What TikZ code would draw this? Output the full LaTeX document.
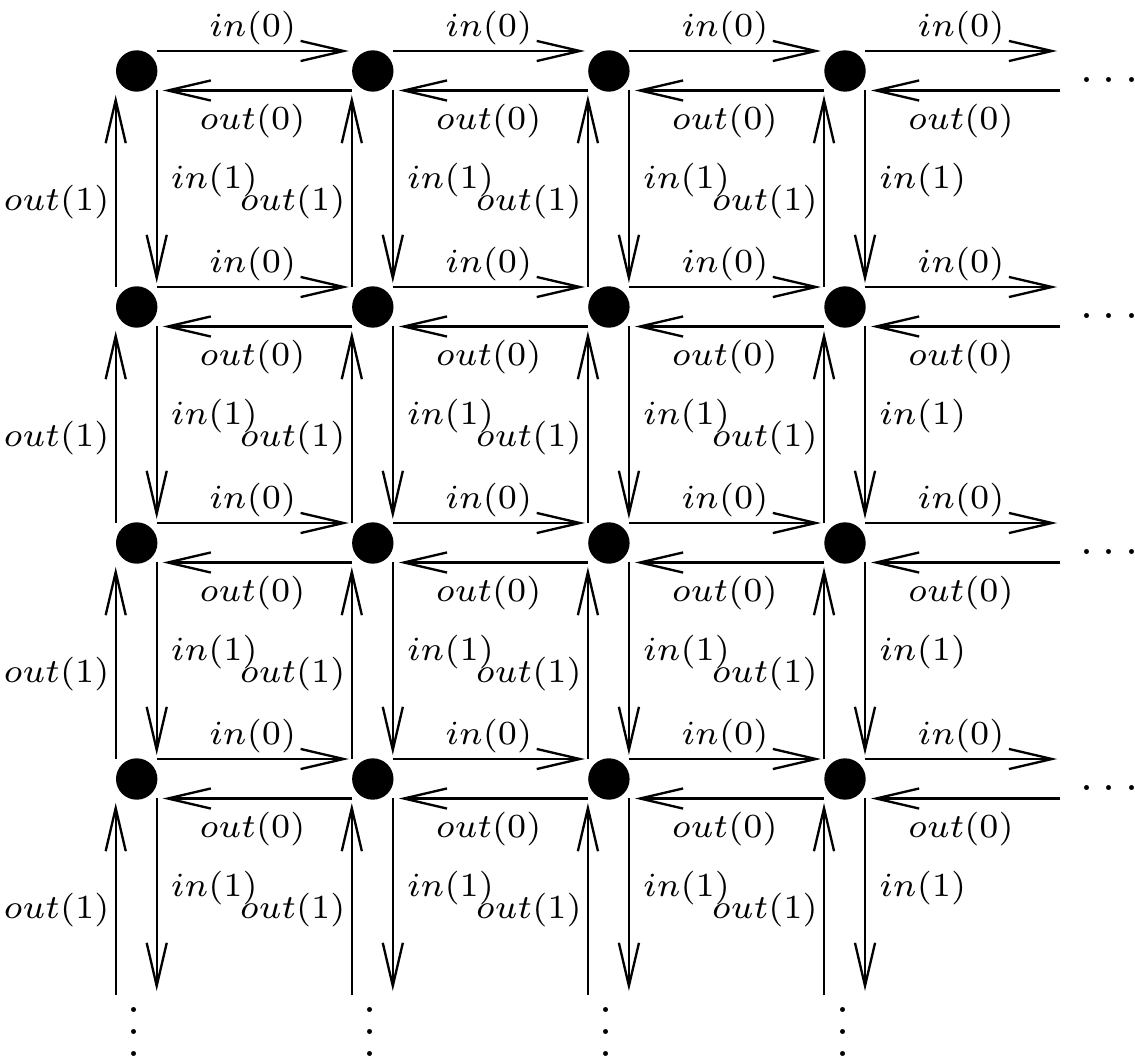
\documentclass[tikz,border=0pt]{standalone}
\usepackage{amsmath}
\usepackage{tikz}
\usetikzlibrary{calc, arrows.meta}

\newcommand{\portlabel}[1]{\scalebox{1.03}{$\scriptstyle #1$}}

\tikzset{
  dotnode/.style={circle, fill, inner sep=0pt, outer sep=0pt, minimum size=8.85pt},
  link/.style={line width=0.5pt, -{Straight Barb[length=9.2pt, width=4.3pt]}},
  lbl/.style={inner sep=0pt}
}

\begin{document}
\begin{tikzpicture}[x=0.2137pt, y=-0.2137pt]
        \useasboundingbox (0,0) rectangle (1135,1059);

        % Processors
        \foreach \r in {1,...,4} {
            \foreach \c in {1,...,4}
                \node[dotnode] (d-\r-\c) at ({136.7+236.1*(\c-1)}, {71+236*(\r-1)}) {};
            \coordinate (d-\r-5) at (1081.1, {71+236*(\r-1)});
            \coordinate (d-5-\r) at ({136.7+236.1*(\r-1)}, 1015);
        }

        % Horizontal links
        \foreach \r in {1,...,4}
            \foreach \c [count=\n from 2] in {1,...,4} {
                \draw[link] ($(d-\r-\c)+(20,-20)$) -- ($(d-\r-\n)+(-24,-20)$)
                    node[lbl, midway, yshift=4.9pt] (in0-\r-\c) {\portlabel{in(0)}};
                \draw[link] ($(d-\r-\n)+(-21,19.5)$) -- ($(d-\r-\c)+(26,19.5)$)
                    node[lbl, midway, xshift=-1pt, yshift=-6.5pt] (out0-\r-\c) {\portlabel{out(0)}};
            }

        % Vertical links
        \foreach \c in {1,...,4}
            \foreach \r [count=\n from 2] in {1,...,4} {
                \draw[link] ($(d-\r-\c)+(20,19)$) -- ($(d-\n-\c)+(20,-24)$)
                    node[lbl, midway, yshift=1.4pt, right=2.8pt] (in1-\r-\c) {\portlabel{in(1)}};
                \draw[link] ($(d-\n-\c)+(-21,-20)$) -- ($(d-\r-\c)+(-21,24)$)
                    node[lbl, midway, yshift=-2.3pt, left=1.1pt] (out1-\r-\c) {\portlabel{out(1)}};
            }

        % Continuation dots
        \foreach \r in {1,...,4}
            \node[anchor=base] (rdots-\r) at (1109.3, {82.5+236*(\r-1)}) {.\kern2pt.\kern2pt.};
        \foreach \c in {1,...,4}
            \node[anchor=base, rotate=90] (bdots-\c) at ({136.7+236.1*(\c-1)}, 1032) {.\kern2pt.\kern2pt.};
    \end{tikzpicture}
\end{document}
